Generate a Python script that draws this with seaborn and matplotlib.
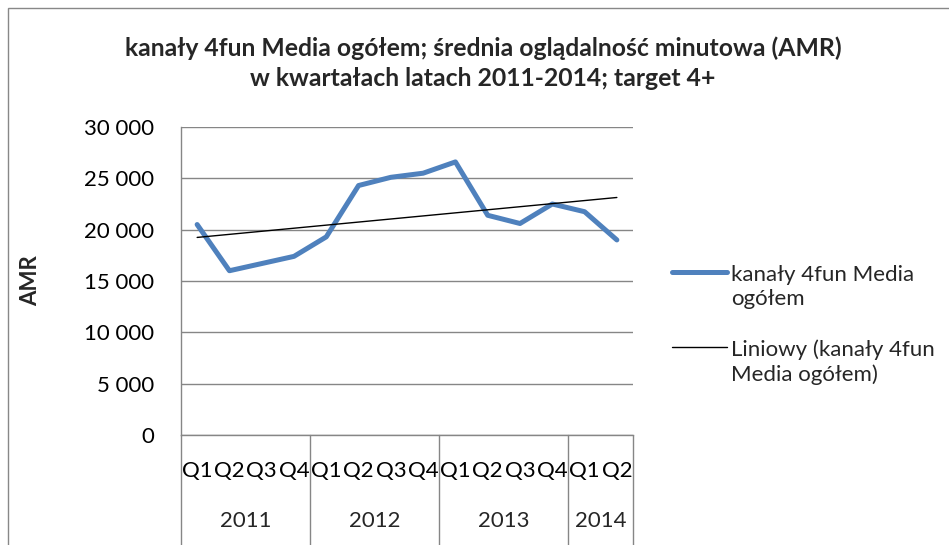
import numpy as np
import pandas as pd
import matplotlib
matplotlib.use("Agg")
import matplotlib.pyplot as plt
import seaborn as sns
from matplotlib.lines import Line2D
from matplotlib.patches import Rectangle
from matplotlib.ticker import FuncFormatter

# data
years = ["2011", "2012", "2013", "2014"]
quarters = ["Q1", "Q2", "Q3", "Q4", "Q1", "Q2", "Q3", "Q4",
            "Q1", "Q2", "Q3", "Q4", "Q1", "Q2"]
quarters_per_year = [4, 4, 4, 2]
amr = [20500, 16000, 16700, 17400, 19300, 24300, 25100, 25500,
       26600, 21400, 20600, 22500, 21750, 19000]

series_label = "kanały 4fun Media\nogółem"
trend_label = "Liniowy (kanały 4fun\nMedia ogółem)"
title = "kanały 4fun Media ogółem; średnia oglądalność minutowa (AMR)\nw kwartałach latach 2011-2014; target 4+"

df = pd.DataFrame({"pos": np.arange(len(amr)), "amr": amr})

sns.set_theme(style="white")
plt.rcParams["font.family"] = ["Lato", "DejaVu Sans"]

W, H = 949, 545
fig = plt.figure(figsize=(W / 100, H / 100), dpi=100)
ax = fig.add_axes([181 / W, 1 - 435 / H, 452 / W, 308 / H])

blue = "#4F81BD"
grid = "#868686"
fs = 16

sns.lineplot(data=df, x="pos", y="amr", ax=ax, color=blue, lw=3.6,
             solid_capstyle="round", zorder=3)
sns.regplot(data=df, x="pos", y="amr", ax=ax, scatter=False, ci=None,
            truncate=True, line_kws={"color": "black", "lw": 1.0, "zorder": 4})

ax.set_xlim(-0.5, len(amr) - 0.5)
ax.set_ylim(0, 30000)
ax.set_yticks(range(0, 30001, 5000))
ax.yaxis.set_major_formatter(FuncFormatter(lambda v, p: f"{int(v):,}".replace(",", " ")))
ax.grid(axis="y", color=grid, lw=1.0)
ax.set_axisbelow(True)
for s in ["top", "right"]:
    ax.spines[s].set_visible(False)
for s in ["left", "bottom"]:
    ax.spines[s].set_color(grid)
    ax.spines[s].set_linewidth(1.0)

ax.set_xticks(df["pos"])
ax.set_xticklabels(quarters)
ax.tick_params(axis="x", length=0, pad=19, labelsize=fs, colors="black")
ax.tick_params(axis="y", length=0, pad=19, labelsize=fs, colors="black")
ax.set_xlabel("")
ax.set_ylabel("AMR", fontsize=fs, fontweight="bold")
ax.yaxis.set_label_coords((41 - 181) / 452, 0.5)

# year level of the category axis
trans = ax.get_xaxis_transform()
bounds = [-0.5]
for n in quarters_per_year:
    bounds.append(bounds[-1] + n)
for i, yr in enumerate(years):
    mid = (bounds[i] + bounds[i + 1]) / 2
    ax.text(mid, -0.279, yr, transform=trans, ha="center", va="center", fontsize=fs)
for b in bounds:
    ax.add_line(Line2D([b, b], [0, -0.4], transform=trans, color=grid, lw=1.0, clip_on=False))

fig.text(483 / W, 1 - 63 / H, title, ha="center", va="center", fontsize=17.8,
         fontweight="bold", linespacing=1.35)

# legend drawn by hand so the keys sit on the first text line (Excel style)
ft = fig.transFigure
fig.add_artist(Line2D([672 / W, 727 / W], [1 - 272 / H] * 2, transform=ft, color=blue,
                      lw=3.6, solid_capstyle="round"))
fig.add_artist(Line2D([672 / W, 727 / W], [1 - 347 / H] * 2, transform=ft, color="black", lw=1.0))
fig.text(731 / W, 1 - 287 / H, series_label, ha="left", va="center", fontsize=fs, linespacing=1.3)
fig.text(731 / W, 1 - 362 / H, trend_label, ha="left", va="center", fontsize=fs, linespacing=1.3)

fig.add_artist(Rectangle((8 / W, -0.1), 2, 1 - 8 / H + 0.1, transform=ft,
                         fill=False, edgecolor="#888888", lw=1.0))

fig.savefig("out.png", dpi=100, facecolor="white")
